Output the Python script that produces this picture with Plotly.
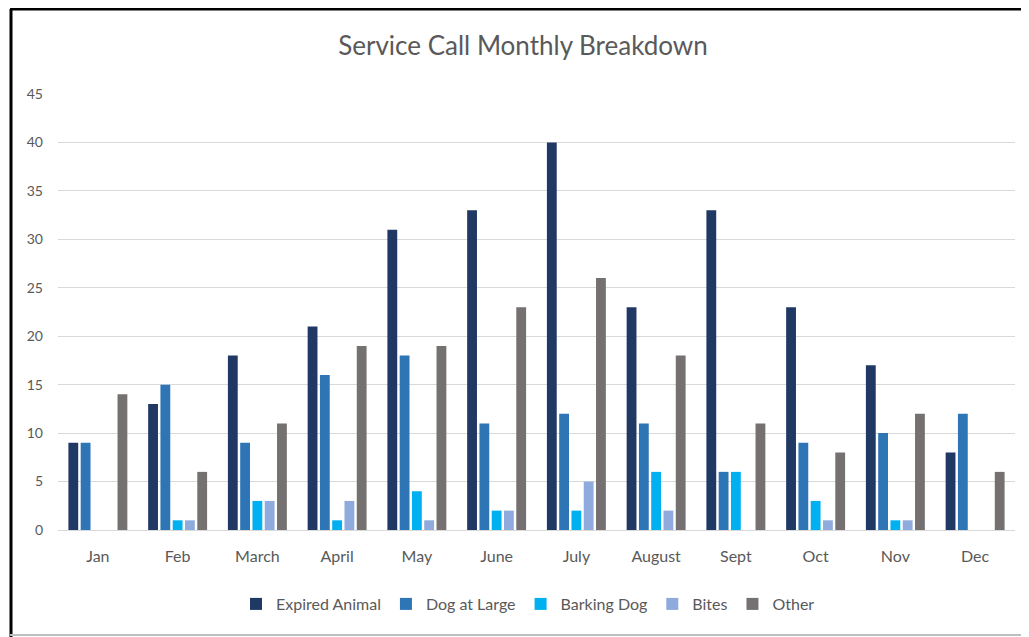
import plotly.graph_objects as go

# monthly service calls
months = ["Jan", "Feb", "March", "April", "May", "June", "July",
          "August", "Sept", "Oct", "Nov", "Dec"]

expired_animal = [9, 13, 18, 21, 31, 33, 40, 23, 33, 23, 17, 8]
dog_at_large = [9, 15, 9, 16, 18, 11, 12, 11, 6, 9, 10, 12]
barking_dog = [0, 1, 3, 1, 4, 2, 2, 6, 6, 3, 1, 0]
bites = [0, 1, 3, 3, 1, 2, 5, 2, 0, 1, 1, 0]
other = [14, 6, 11, 19, 19, 23, 26, 18, 11, 8, 12, 6]

series = [
    ("Expired Animal", expired_animal, "#203864"),
    ("Dog at Large", dog_at_large, "#2E75B6"),
    ("Barking Dog", barking_dog, "#00B0F0"),
    ("Bites", bites, "#8FAADC"),
    ("Other", other, "#767171"),
]

fig = go.Figure()
for name, vals, col in series:
    fig.add_trace(go.Bar(x=months, y=vals, name=name, marker_color=col,
                         marker_line_width=0))

# page has an 8px body margin, so work in page pixels and shift
OFF = 8
W, H = 1029 - OFF, 637 - OFF
L, T = 58 - OFF, 94 - OFF
R = W - (1015 - OFF)
B = H - (530 - OFF)
pw, ph = W - L - R, H - T - B


def px_x(p):
    return (p - OFF - L) / pw


def px_y(p):
    return (H - B - (p - OFF)) / ph


fig.update_layout(
    width=W, height=H,
    margin=dict(l=L, r=R, t=T, b=B),
    paper_bgcolor="white", plot_bgcolor="white",
    font=dict(family="Lato, Open Sans, sans-serif", color="#595959", size=14),
    title=dict(text="Service Call Monthly Breakdown", x=px_x(523),
               xanchor="center", xref="paper",
               y=1 - (46 - OFF) / H, yanchor="middle",
               font=dict(size=26, color="#595959")),
    barmode="group", bargap=0.23, bargroupgap=0.2,
    showlegend=True,
    legend=dict(orientation="h", x=px_x(528), xanchor="center",
                y=px_y(604), yanchor="middle",
                font=dict(size=16, color="#595959"),
                itemwidth=30, tracegroupgap=0),
    xaxis=dict(showgrid=False, showline=True, linecolor="#D9D9D9",
               ticks="", ticklabelstandoff=12, tickfont=dict(size=16)),
    yaxis=dict(range=[0, 45], dtick=5, showgrid=True, gridcolor="#D9D9D9",
               zeroline=False, ticks="", ticklabelstandoff=14,
               tickfont=dict(size=14)),
    shapes=[
        dict(type="line", xref="paper", yref="paper",
             x0=px_x(11), x1=px_x(11), y0=px_y(9), y1=px_y(640),
             line=dict(color="black", width=3)),
        dict(type="line", xref="paper", yref="paper",
             x0=px_x(10), x1=px_x(1040), y0=px_y(9), y1=px_y(9),
             line=dict(color="black", width=3)),
        dict(type="line", xref="paper", yref="paper",
             x0=px_x(10), x1=px_x(1040), y0=px_y(635), y1=px_y(635),
             line=dict(color="#BFBFBF", width=2)),
    ],
)

fig.write_html("out.html")
